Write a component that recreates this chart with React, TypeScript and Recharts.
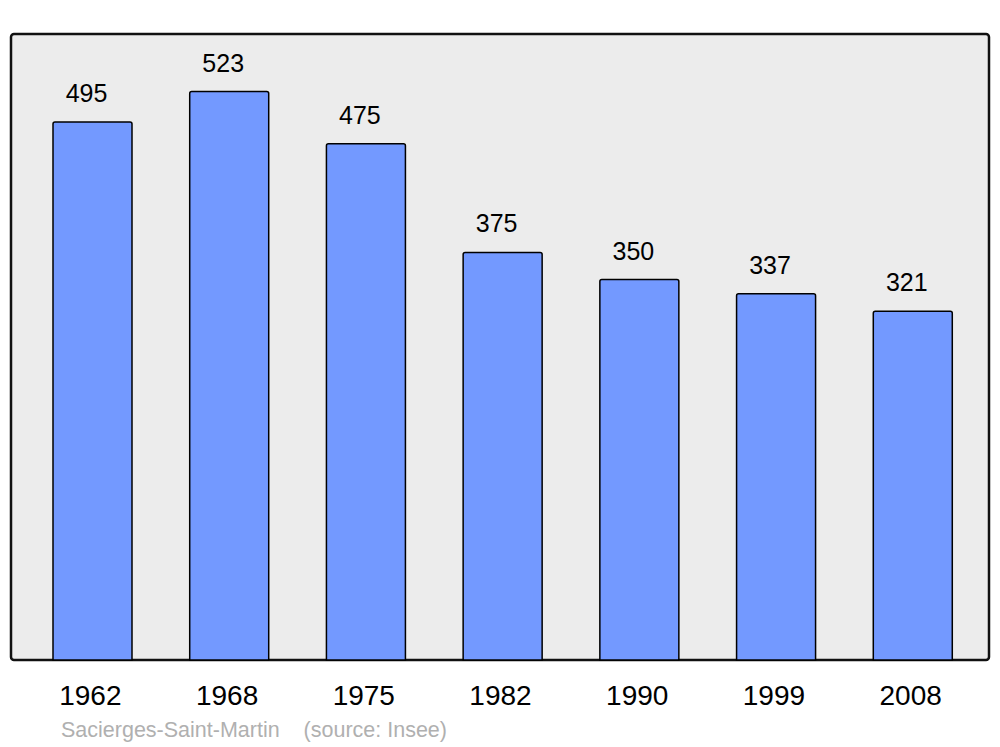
import React from "react";
import { BarChart, Bar, XAxis, YAxis, LabelList, ReferenceArea } from "recharts";

const years = ["1962", "1968", "1975", "1982", "1990", "1999", "2008"];
const population = [495, 523, 475, 375, 350, 337, 321];
const data = years.map((y, i) => ({ year: y, pop: population[i] }));

const PAD_LEFT = 13;
const PAD_RIGHT = 8;

const renderLabel = (props: any) => {
  const { x, y, width, value } = props;
  return (
    <text
      x={Number(x) + Number(width) / 2 - 6}
      y={Number(y) - 20}
      textAnchor="middle"
      fontSize={25}
      fontFamily="Liberation Sans, Arial, sans-serif"
      fill="#000"
    >
      {value}
    </text>
  );
};

const FrameShape = (props: any) => {
  const { x, y, width, height } = props;
  return (
    <rect
      x={x - PAD_LEFT}
      y={y}
      width={width + PAD_LEFT + PAD_RIGHT}
      height={height}
      rx={3}
      ry={3}
      fill="#ececec"
      stroke="#111"
      strokeWidth={2.5}
    />
  );
};

export default function App() {
  return (
    <div style={{ position: "absolute", left: 0, top: 0, width: 1000, height: 747, background: "#fff" }}>
      <BarChart
        width={1000}
        height={747}
        data={data}
        margin={{ top: 34, right: 11, bottom: 57, left: 11 }}
        barSize={79}
      >
        <YAxis hide domain={[0, 576]} width={0} />
        <XAxis
          dataKey="year"
          axisLine={false}
          tickLine={false}
          tickSize={0}
          tickMargin={25}
          height={30}
          padding={{ left: PAD_LEFT, right: PAD_RIGHT }}
          tick={{ fontSize: 28, fill: "#000", fontFamily: "Liberation Sans, Arial, sans-serif", dx: -2 }}
          interval={0}
        />
        <ReferenceArea y1={0} y2={576} ifOverflow="visible" shape={FrameShape} />
        <Bar
          dataKey="pop"
          fill="#7399ff"
          stroke="#000"
          strokeWidth={1.5}
          radius={[2, 2, 0, 0]}
          isAnimationActive={false}
        >
          <LabelList dataKey="pop" content={renderLabel} />
        </Bar>
      </BarChart>
      <div
        style={{
          position: "absolute",
          left: 61,
          top: 717,
          fontSize: 21.5,
          color: "#b0b0b0",
          fontFamily: "Liberation Sans, Arial, sans-serif",
          whiteSpace: "pre",
          lineHeight: "26px",
        }}
      >
        {"Sacierges-Saint-Martin    (source: Insee)"}
      </div>
    </div>
  );
}
